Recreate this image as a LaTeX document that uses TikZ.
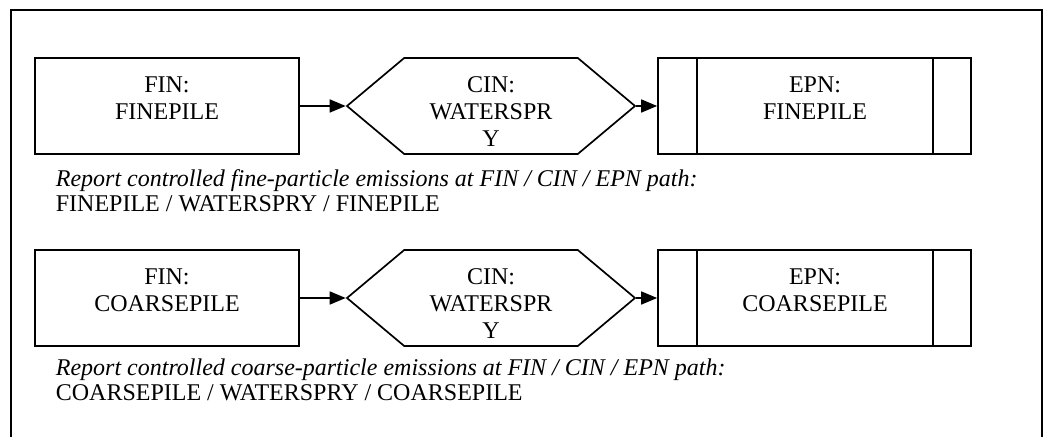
\documentclass[tikz,border=0pt]{standalone}
\usepackage{fontspec}
\setmainfont{Liberation Serif}
\usetikzlibrary{arrows.meta,shapes.symbols}
\begin{document}
\begin{tikzpicture}[x=0.5pt,y=-0.5pt,
  line width=0.85pt,
  finbox/.style={draw, rectangle, minimum width=132pt, minimum height=48pt, inner sep=0pt},
  hexa/.style={draw, signal, signal to=east and west, signal pointer angle=80,
               minimum width=144pt, minimum height=48pt, inner sep=0pt},
  epnbox/.style={draw, rectangle, minimum width=156.5pt, minimum height=48pt, inner sep=0pt},
  lbl/.style={align=center, anchor=north, inner sep=0pt, font=\fontsize{12}{13.5}\selectfont},
  captxt/.style={anchor=base west, inner sep=0pt, font=\fontsize{12}{14}\selectfont},
  flow/.style={-{Triangle[length=8pt,width=6.5pt]}},
  outerframe/.style={line width=1pt}]
\useasboundingbox (0,0) rectangle (1044,437);
\draw[outerframe] (11,440) -- (11,10) -- (1042,10) -- (1042,440);

% row 1
\node[finbox] (fin1) at (167,106) {};
\node[hexa] (cin1) at (491,106) {};
\node[epnbox] (epn1) at (814.5,106) {};
\draw ([xshift=20pt]epn1.north west) -- ([xshift=20pt]epn1.south west);
\draw ([xshift=-19.5pt]epn1.north east) -- ([xshift=-19.5pt]epn1.south east);
\draw[flow] (fin1.east) -- (cin1.west);
\draw[flow] (cin1.east) -- (epn1.west);
\node[lbl] (fin1t) at (167,76) {FIN:\\FINEPILE};
\node[lbl] (cin1t) at (491,76) {CIN:\\WATERSPR\\Y};
\node[lbl] (epn1t) at (815,76) {EPN:\\FINEPILE};
\node[captxt] (cap1a) at (55,187) {\itshape Report controlled fine-particle emissions at FIN / CIN / EPN path:};
\node[captxt] (cap1b) at (55,212) {FINEPILE / WATERSPRY / FINEPILE};

% row 2
\node[finbox] (fin2) at (167,298) {};
\node[hexa] (cin2) at (491,298) {};
\node[epnbox] (epn2) at (814.5,298) {};
\draw ([xshift=20pt]epn2.north west) -- ([xshift=20pt]epn2.south west);
\draw ([xshift=-19.5pt]epn2.north east) -- ([xshift=-19.5pt]epn2.south east);
\draw[flow] (fin2.east) -- (cin2.west);
\draw[flow] (cin2.east) -- (epn2.west);
\node[lbl] (fin2t) at (167,268) {FIN:\\COARSEPILE};
\node[lbl] (cin2t) at (491,268) {CIN:\\WATERSPR\\Y};
\node[lbl] (epn2t) at (815,268) {EPN:\\COARSEPILE};
\node[captxt] (cap2a) at (55,376) {\itshape Report controlled coarse-particle emissions at FIN / CIN / EPN path:};
\node[captxt] (cap2b) at (55,401) {COARSEPILE / WATERSPRY / COARSEPILE};
\end{tikzpicture}
\end{document}
